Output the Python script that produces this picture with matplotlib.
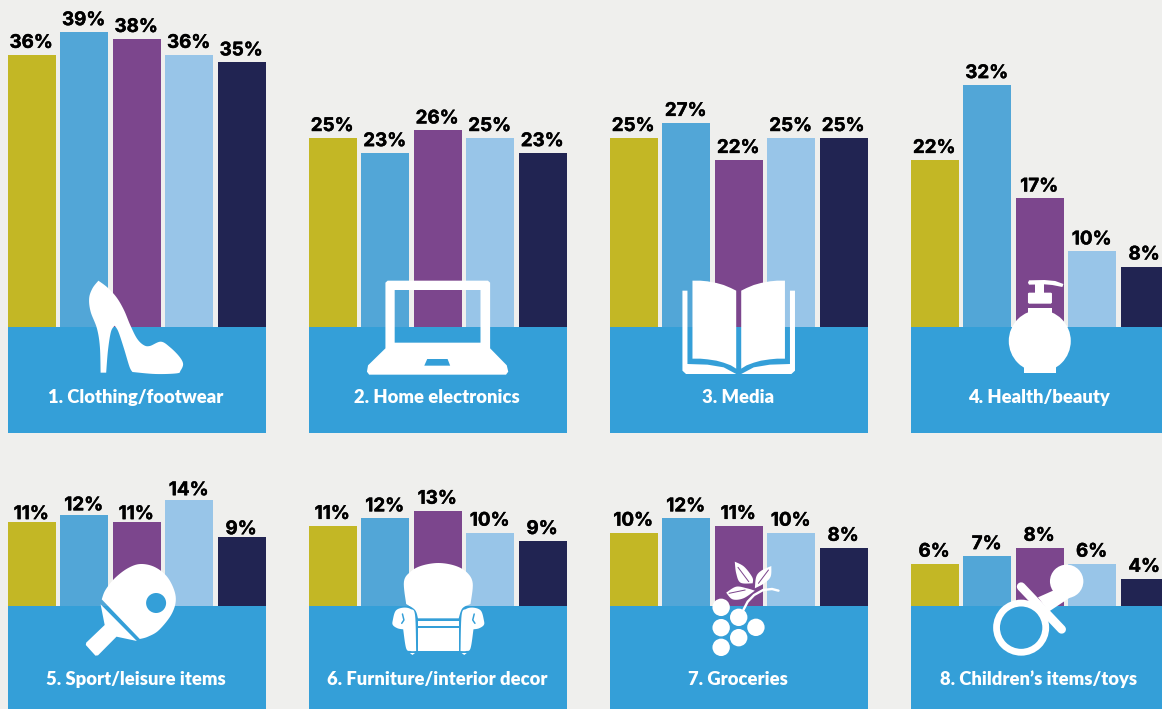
import numpy as np
import matplotlib
matplotlib.use('Agg')
import matplotlib.pyplot as plt
import matplotlib.patheffects as pe
from matplotlib.patches import Circle, Polygon

W, H = 1162, 709

# bar heights, labels are these rounded
clothing = [36, 39, 38.1, 36, 35]
electronics = [25, 23, 26, 25, 23]
media = [25, 27, 22.1, 25, 25]
health = [22.1, 32, 17, 10, 8]
sport = [11.1, 12, 11.1, 14, 9.1]
furniture = [10.6, 11.6, 12.6, 9.7, 8.6]
groceries = [9.7, 11.6, 10.6, 9.7, 7.7]
children = [5.6, 6.6, 7.7, 5.6, 3.6]

series = [clothing, electronics, media, health, sport, furniture, groceries, children]
names = ['1. Clothing/footwear', '2. Home electronics', '3. Media', '4. Health/beauty',
         '5. Sport/leisure items', '6. Furniture/interior decor', '7. Groceries',
         '8. Children\u2019s items/toys']

BG = '#EFEFED'
BAND = '#349FD8'
bar_colors = ['#C3B725', '#52A6D7', '#7C468D', '#98C5E8', '#212452']

PX_PER_PCT = 7.56
BAR_STEP = 52.5
BAR_W = 48
lefts = [8, 309, 610, 911]
PANEL_W = 258
# gap between bar top and label baseline in px, the sport panel sits tighter
LABEL_GAP = 7
SPORT_GAPS = [3, 5, 3, 5, 3]

fig = plt.figure(figsize=(W / 100, H / 100), dpi=100, facecolor=BG)


def panel(i, vals, name):
    row = i // 4
    left = lefts[i % 4]
    top, base, bottom = (0, 327, 433) if row == 0 else (450, 606, 709)
    ax = fig.add_axes([left / W, 1 - bottom / H, PANEL_W / W, (bottom - top) / H])
    ax.set_facecolor('none')
    half = (BAR_W / 2) / BAR_STEP
    ax.set_xlim(-half + 0.002, 4 + half + 0.002)
    ax.set_ylim(-(bottom - base) / PX_PER_PCT, (base - top) / PX_PER_PCT)
    ax.axis('off')
    ax.bar(range(5), vals, width=BAR_W / BAR_STEP, color=bar_colors)
    ax.axhspan(-(bottom - base) / PX_PER_PCT, 0, color=BAND, lw=0)
    for x, v in enumerate(vals):
        gap = SPORT_GAPS[x] if i == 4 else LABEL_GAP
        t = ax.annotate(f'{round(v)}%', (x, v), xytext=(-0.5, gap * 0.72), textcoords='offset points',
                        ha='center', va='baseline', fontsize=13.5, fontweight='bold',
                        family='Inter', color='black', annotation_clip=False)
        t.set_path_effects([pe.withStroke(linewidth=0.3, foreground='black')])
    label_y = -(397.5 - base if row == 0 else 679.5 - base) / PX_PER_PCT
    ax.annotate(name, (2, label_y), xytext=(-0.7, 0), textcoords='offset points', ha='center', va='center',
                fontsize=13.2, fontweight='heavy', family='Lato', color='white')


for i, (vals, name) in enumerate(zip(series, names)):
    panel(i, vals, name)

# icons on top, in pixel coordinates
ic = fig.add_axes([0, 0, 1, 1], zorder=10)
ic.set_xlim(0, W)
ic.set_ylim(H, 0)
ic.axis('off')
ic.patch.set_alpha(0)


def smooth(pts, n=8):
    # closed catmull-rom, repeat a point to get a sharp corner
    pts = np.array(pts, dtype=float)
    out = []
    m = len(pts)
    for k in range(m):
        p0, p1, p2, p3 = pts[k - 1], pts[k], pts[(k + 1) % m], pts[(k + 2) % m]
        if (p1 == p2).all():
            continue
        for t in np.linspace(0, 1, n, endpoint=False):
            out.append(0.5 * (2 * p1 + (p2 - p0) * t + (2 * p0 - 5 * p1 + 4 * p2 - p3) * t ** 2
                              + (3 * p1 - p0 - 3 * p2 + p3) * t ** 3))
    return np.array(out)


def z(pts, ox, oy):
    # crop coordinates to picture pixels, crops were 1568 wide
    sx = 1568 / (580 if ox == 0 else 562)
    return [(x / sx + ox, y / 3 + oy) for x, y in pts]


def fill(pts, color='white', **kw):
    ic.add_patch(Polygon(pts, closed=True, facecolor=color, edgecolor='none', **kw))


def px_line(pts, width, color='white', cap='round'):
    xs, ys = zip(*pts)
    ic.plot(xs, ys, color=color, lw=width * 0.72, solid_capstyle=cap)


def disc(cx, cy, r, ox, oy, color='white'):
    x, y = z([(cx, cy)], ox, oy)[0]
    ic.add_patch(Circle((x, y), r, facecolor=color, edgecolor='none'))


# shoe
shoe = [(266, 62), (266, 62), (290, 82), (315, 112), (335, 150), (352, 195), (370, 235), (388, 255),
        (405, 258), (435, 245), (460, 262), (485, 290), (495, 312), (488, 332), (478, 340),
        (420, 342), (358, 336), (358, 336), (350, 320), (335, 265), (320, 215), (310, 197), (310, 197),
        (300, 215), (292, 270), (287, 338), (287, 338), (272, 338), (272, 338), (270, 260),
        (262, 205), (245, 155), (241, 115), (250, 85)]
fill(smooth(z(shoe, 0, 260)))

# laptop
ox, oy = 0, 260
fill(z([(1042, 68), (1048, 62), (1319, 62), (1325, 68), (1325, 265), (1370, 316), (1374, 335), (1368, 344),
        (998, 344), (992, 335), (995, 316), (1042, 265), (1042, 68),
        (1067, 90), (1067, 248), (1299, 248), (1299, 90), (1067, 90)], ox, oy))
fill(z([(1155, 297), (1210, 297), (1217, 317), (1147, 317)], ox, oy), color=BAND)

# book
ox, oy = 600, 260
page = [(258, 62), (280, 62), (300, 64), (325, 69), (345, 75), (365, 84), (380, 92), (380, 326),
        (365, 316), (345, 308), (325, 302), (300, 298), (280, 296), (258, 296)]
cover = [(230, 92), (244, 92), (244, 312), (300, 314), (345, 322), (380, 342), (240, 342), (230, 332)]
for pts in (page, [(774 - x, y) for x, y in page]):
    fill(z(pts, ox, oy))
for pts in (cover, [(774 - x, y) for x, y in cover]):
    fill(z(pts, ox, oy))

# bottle
disc(1227, 243, 31, ox, oy)
fill(z([(1184, 300), (1272, 300), (1272, 340), (1184, 340)], ox, oy))
fill(z([(1195, 145), (1261, 145), (1261, 175), (1195, 175)], ox, oy))
fill(z([(1194, 100), (1197, 98), (1258, 98), (1261, 100), (1261, 128), (1258, 131), (1197, 131), (1194, 128)], ox, oy))
fill(z([(1215, 70), (1238, 70), (1238, 100), (1215, 100)], ox, oy))
fill(z([(1197, 61), (1240, 60), (1270, 63), (1293, 72), (1290, 81), (1262, 75), (1240, 73), (1197, 74), (1194, 68)], ox, oy))

# paddle
ox, oy = 0, 540
blade = [(275, 178), (275, 178), (285, 150), (310, 115), (345, 85), (380, 72), (420, 82), (455, 115),
         (475, 170), (465, 220), (430, 270), (400, 290), (378, 297), (378, 297)]
fill(smooth(z(blade, ox, oy)))
disc(422, 189, 10, ox, oy, color=BAND)
fill(z([(272, 193), (370, 303), (315, 290), (265, 346), (258, 347), (232, 315), (233, 308), (283, 255)], ox, oy))

# armchair
back = [(1092, 125), (1110, 95), (1140, 77), (1185, 69), (1230, 77), (1262, 97), (1278, 130),
        (1272, 192), (1272, 192), (1250, 205), (1240, 235), (1240, 235), (1130, 235), (1130, 235),
        (1122, 210), (1098, 192), (1098, 192)]
fill(smooth(z(back, ox, oy)))
fill(z([(1130, 242), (1240, 242), (1240, 258), (1130, 258)], ox, oy))
fill(z([(1130, 265), (1240, 265), (1240, 333), (1130, 333)], ox, oy))
arm = [(1062, 240), (1070, 212), (1090, 203), (1110, 207), (1122, 225), (1125, 333), (1125, 333),
       (1110, 333), (1098, 325), (1090, 268), (1090, 268), (1075, 265), (1062, 255)]
for pts in (arm, [(2370 - x, y) for x, y in arm]):
    fill(smooth(z(pts, ox, oy)))
px_line(z([(1088, 222), (1092, 240), (1086, 250)], ox, oy), 1.5, color=BAND)
px_line(z([(1282, 222), (1278, 240), (1284, 250)], ox, oy), 1.5, color=BAND)
fill(z([(1108, 339), (1122, 339), (1115, 345)], ox, oy))
fill(z([(1248, 339), (1262, 339), (1255, 345)], ox, oy))

# grapes
ox, oy = 600, 540
for cx, cy in [(338, 202), (387, 232), (338, 263), (435, 262), (387, 293), (338, 322)]:
    disc(cx, cy, 8.7, ox, oy)
stem = z([(400, 210), (412, 185), (430, 165), (455, 150), (480, 147), (498, 152)], ox, oy)
px_line(stem, 2.4)
for leaf in ([(352, 158), (352, 158), (380, 140), (410, 145), (432, 152), (432, 152), (400, 175), (370, 178)],
             [(376, 65), (376, 65), (402, 80), (425, 112), (426, 130), (426, 130), (392, 128), (380, 100)],
             [(478, 78), (478, 78), (476, 110), (458, 130), (432, 145), (432, 145), (436, 110), (450, 92)]):
    fill(smooth(z(leaf, ox, oy)))
px_line(z([(360, 160), (405, 150)], ox, oy), 1, color='#7C468D')
px_line(z([(385, 82), (415, 125)], ox, oy), 1, color='#7C468D')
px_line(z([(470, 90), (442, 130)], ox, oy), 1, color='#7C468D')

# pacifier
px_line(z([(1175, 140), (1288, 268)], ox, oy), 8.7)
fill(z([(1268, 150), (1222, 172), (1252, 215), (1315, 170)], ox, oy))
disc(1302, 124, 16.7, ox, oy)
disc(1175, 263, 21, ox, oy, color=BAND)
x0, y0 = z([(1175, 263)], ox, oy)[0]
ic.add_patch(Circle((x0, y0), 24.6, fill=False, edgecolor='white', lw=6.8 * 0.72))

fig.savefig('out.png', dpi=100, facecolor=BG)
